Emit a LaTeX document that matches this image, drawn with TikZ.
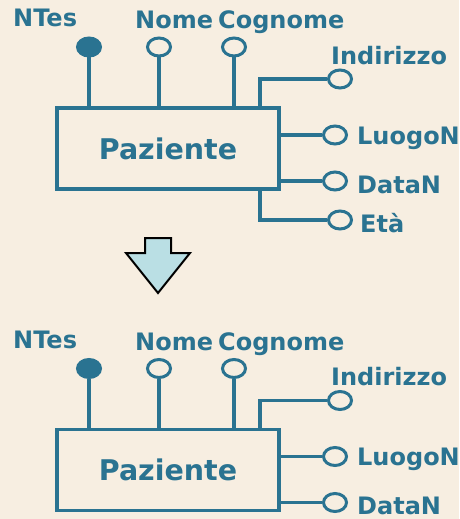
\documentclass[tikz,border=0pt]{standalone}
\usepackage{fontspec}
\setmainfont{DejaVu Sans}
\usetikzlibrary{shapes.geometric}
\definecolor{bg}{HTML}{F7EEE1}
\definecolor{er}{HTML}{2A7391}
\definecolor{arr}{HTML}{BADFE4}
\tikzset{
  ent/.style={draw=er, line width=3.4pt, minimum width=222pt, minimum height=81pt, inner sep=0pt, text=er, font=\fontsize{28.5}{28.5}\selectfont\bfseries},
  attr/.style={ellipse, draw=er, line width=3pt, minimum width=23pt, minimum height=18pt, inner sep=0pt},
  key/.style={attr, fill=er},
  lab/.style={text=er, inner sep=0pt, font=\fontsize{24}{24}\selectfont\bfseries},
  conn/.style={draw=er, line width=3.4pt},
}
\newcommand\pazdiag[3]{%
\begin{scope}[shift={(0,#2)}]
  \node[ent] (#1box) at (168,148.5) {Paziente};
  \node[key]  (#1nt)  at (89,47) {};
  \node[attr] (#1no)  at (159,47) {};
  \node[attr] (#1co)  at (234,47) {};
  \node[attr] (#1in)  at (340,79) {};
  \node[attr] (#1lu)  at (335,135) {};
  \node[attr] (#1da)  at (335,181) {};
  \node[lab, anchor=base west] (#1lnt) at (13,27) {NTes};
  \node[lab, anchor=base west] (#1lno) at (135,29) {Nome};
  \node[lab, anchor=base west] (#1lco) at (218,29) {Cognome};
  \node[lab, anchor=base west] (#1lin) at (331,64) {Indirizzo};
  \node[lab, anchor=base west] (#1llu) at (357,144) {LuogoN};
  \node[lab, anchor=base west] (#1lda) at (357,193) {DataN};
  \coordinate (#1ib) at (260,108);
  \draw[conn] (#1nt.south) -- (#1nt.south |- #1box.north);
  \draw[conn] (#1no.south) -- (#1no.south |- #1box.north);
  \draw[conn] (#1co.south) -- (#1co.south |- #1box.north);
  \draw[conn] (#1in.west) -| (#1ib);
  \draw[conn] (#1lu.west) -- (#1lu.west -| #1box.east);
  \draw[conn] (#1da.west) -- (#1da.west -| #1box.east);
  #3
\end{scope}}
\begin{document}
\begin{tikzpicture}[x=1pt,y=-1pt]
\fill[bg] (0,0) rectangle (459,519);
\useasboundingbox (0,0) rectangle (459,519);
\pazdiag{t}{0}{%
  \node[attr] (tet) at (340,220) {};
  \node[lab, anchor=base west] (tlet) at (360,232) {Età};
  \coordinate (teb) at (260,189);
  \draw[conn] (tet.west) -| (teb);
}
\draw[black, line width=2pt, fill=arr, line join=miter]
  (145,238) -- (171,238) -- (171,253) -- (190,253) -- (158,293) -- (126,253) -- (145,253) -- cycle;
\pazdiag{b}{321.5}{}
\end{tikzpicture}
\end{document}
